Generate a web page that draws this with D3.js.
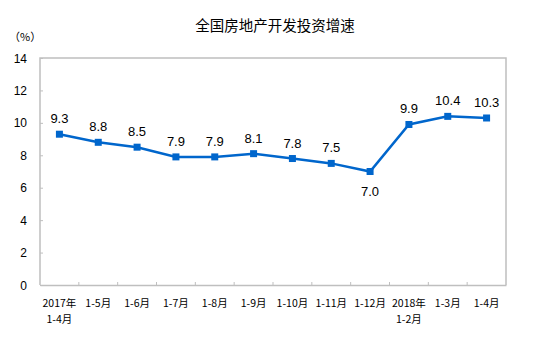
<!DOCTYPE html>
<html>
<head>
<meta charset="utf-8">
<script src="https://cdn.jsdelivr.net/npm/d3@7"></script>
<style>
  body { margin: 0; background: #fff; }
  svg { display: block; }
</style>
</head>
<body>
<svg id="chart" width="554" height="363"></svg>
<script>
// data
var months = ['2017年\n1-4月', '1-5月', '1-6月', '1-7月', '1-8月', '1-9月', '1-10月', '1-11月', '1-12月', '2018年\n1-2月', '1-3月', '1-4月'];
var growth = [9.3, 8.8, 8.5, 7.9, 7.9, 8.1, 7.8, 7.5, 7.0, 9.9, 10.4, 10.3];
var yTicks = [0, 2, 4, 6, 8, 10, 12, 14];
var title = '全国房地产开发投资增速';
var unit = '（%）';

var svg = d3.select('#chart');
var plotL = 40, plotR = 506, plotT = 58, plotB = 285;
var numFont = '"Liberation Sans", Arial, sans-serif';
var cjkFont = '"Noto Sans CJK SC", sans-serif';
var grey = '#bfbfbf';
var blue = '#0066cc';

var x = d3.scaleBand().domain(months).range([plotL, plotR]);
var y = d3.scaleLinear().domain([0, 14]).range([plotB, plotT]);

// title + unit
svg.append('text')
    .attr('x', 275).attr('y', 31)
    .attr('text-anchor', 'middle')
    .style('font-family', cjkFont).style('font-size', '14.5px')
    .text(title);
svg.append('text')
    .attr('x', 9).attr('y', 41)
    .style('font-family', cjkFont).style('font-size', '11px')
    .text(unit);

// frame
svg.append('path')
    .attr('d', 'M' + plotL + ',' + plotB + 'V' + plotT + 'H' + plotR + 'V' + plotB)
    .style('fill', 'none').style('stroke', grey).style('stroke-width', 1.5);

// y axis (ticks inside)
var yAxis = svg.append('g').attr('transform', 'translate(' + plotL + ',0)')
    .call(d3.axisRight(y).tickValues(yTicks).tickSize(3).tickFormat(''));
yAxis.select('.domain').remove();
yAxis.selectAll('line').style('stroke', grey);
svg.selectAll('.ylab').data(yTicks).enter().append('text')
    .attr('class', 'ylab')
    .attr('x', 27).attr('y', d => y(d) + 4.5)
    .attr('text-anchor', 'end')
    .style('font-family', numFont).style('font-size', '12px')
    .text(d => d);

// x axis (ticks between categories, pointing up)
var xAxis = svg.append('g').attr('transform', 'translate(0,' + plotB + ')')
    .call(d3.axisTop(x).tickSize(0).tickFormat(''));
xAxis.select('.domain').style('stroke', grey).style('stroke-width', 1.5);
svg.selectAll('.xtick').data(months.slice(1)).enter().append('line')
    .attr('class', 'xtick')
    .attr('x1', d => x(d)).attr('x2', d => x(d))
    .attr('y1', plotB).attr('y2', plotB - 3)
    .style('stroke', grey);

var xl = svg.selectAll('.xlab').data(months).enter().append('text')
    .attr('class', 'xlab')
    .attr('text-anchor', 'middle')
    .style('font-family', cjkFont).style('font-size', '10.5px');
xl.each(function(d){
    var t = d3.select(this);
    d.split('\n').forEach((s, i) => {
        t.append('tspan')
            .attr('x', x(d) + x.bandwidth()/2)
            .attr('y', 307 + i*16)
            .text(s);
    });
});

// line
var line = d3.line()
    .x((d, i) => x(months[i]) + x.bandwidth()/2)
    .y(d => y(d));
svg.append('path')
    .datum(growth)
    .attr('d', line)
    .style('fill', 'none').style('stroke', blue).style('stroke-width', 2.5);

svg.selectAll('.pt').data(growth).enter().append('rect')
    .attr('class', 'pt')
    .attr('x', (d, i) => x(months[i]) + x.bandwidth()/2 - 3.5)
    .attr('y', d => y(d) - 3.5)
    .attr('width', 7).attr('height', 7)
    .style('fill', blue);

// value labels (1-12 sits below the line)
svg.selectAll('.val').data(growth).enter().append('text')
    .attr('class', 'val')
    .attr('x', (d, i) => x(months[i]) + x.bandwidth()/2)
    .attr('y', (d, i) => i == 8 ? y(d) + 24 : y(d) - 11)
    .attr('text-anchor', 'middle')
    .style('font-family', numFont).style('font-size', '13px')
    .text(d => d.toFixed(1));
</script>
</body>
</html>
